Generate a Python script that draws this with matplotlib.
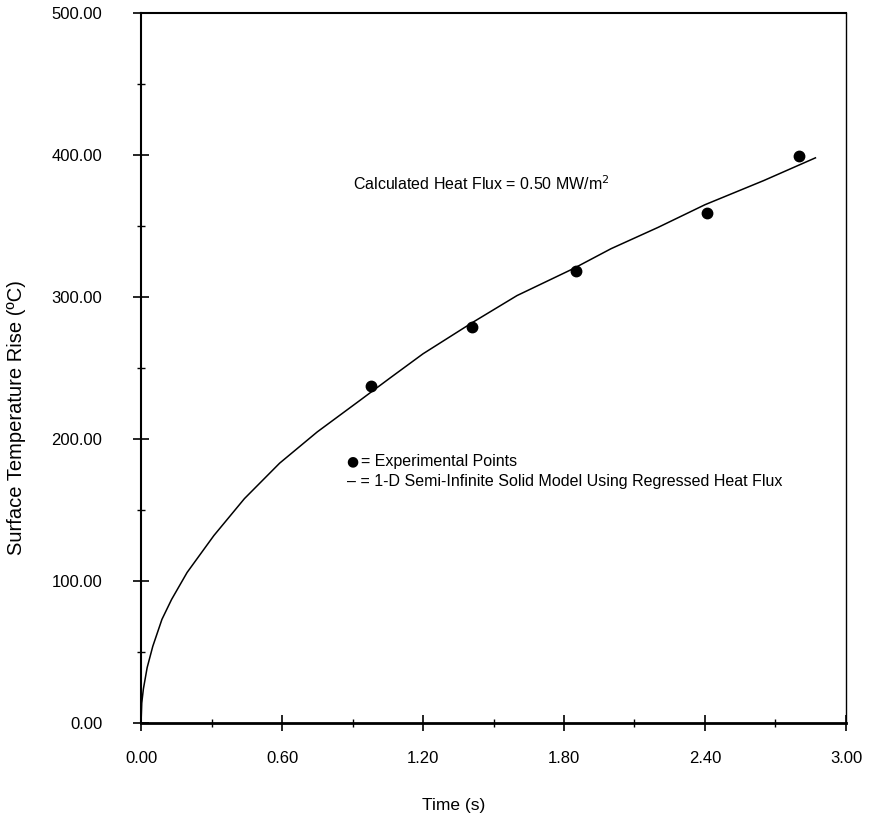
import numpy as np
import matplotlib.pyplot as plt
from matplotlib.ticker import MultipleLocator, FormatStrFormatter

plt.rcParams['font.family'] = ['Liberation Sans', 'DejaVu Sans']

# experimental points
t_exp = [0.98, 1.41, 1.85, 2.41, 2.80]
T_exp = [237, 279, 318, 359, 399]

# model curve (1-D semi-infinite solid)
t_model = [0.0, 0.003, 0.01, 0.026, 0.05, 0.089, 0.13, 0.196, 0.31, 0.44,
           0.59, 0.75, 0.93, 1.06, 1.2, 1.41, 1.6, 1.84, 2.0, 2.20,
           2.40, 2.65, 2.87]
T_model = [0, 14, 24, 39, 54, 73, 87, 106, 132, 158,
           183, 205, 227, 243, 260, 282, 301, 320, 334, 349,
           365, 382, 398]

x_ticks = [0.0, 0.6, 1.2, 1.8, 2.4, 3.0]
y_ticks = [0, 100, 200, 300, 400, 500]

fig = plt.figure(figsize=(8.69, 8.24), dpi=100)
ax = fig.add_axes([0.1623, 0.1226, 0.8112, 0.8616])

ax.plot(t_model, T_model, color='black', lw=1.1)
ax.plot(t_exp, T_exp, 'o', color='black', ms=7.5)

ax.set_xlim(0, 3.0)
ax.set_ylim(0, 500)
ax.set_xticks(x_ticks)
ax.set_yticks(y_ticks)
ax.xaxis.set_minor_locator(MultipleLocator(0.3))
ax.yaxis.set_minor_locator(MultipleLocator(50))
ax.xaxis.set_major_formatter(FormatStrFormatter('%.2f'))
ax.yaxis.set_major_formatter(FormatStrFormatter('%.2f'))

ax.tick_params(which='major', direction='inout', length=12, width=1.2,
               labelsize=12, top=False, right=False)
ax.tick_params(which='minor', direction='inout', length=6, width=1.0,
               top=False, right=False)
ax.tick_params(axis='y', which='major', pad=22)
ax.tick_params(axis='x', which='major', pad=14)

ax.spines['bottom'].set_linewidth(2.0)
ax.spines['left'].set_linewidth(1.5)
ax.spines['top'].set_linewidth(1.5)
ax.spines['right'].set_linewidth(1.0)

ax.set_xlabel('Time (s)', fontsize=12.5)
ax.xaxis.set_label_coords(0.443, -0.106)
ax.set_ylabel('Surface Temperature Rise (ºC)', fontsize=14.5)
ax.yaxis.set_label_coords(-0.163, 0.43)

ax.text(0.90, 380, 'Calculated Heat Flux = 0.50 MW/m$^2$', fontsize=11.5,
        va='center', ha='left')
ax.text(0.872, 184.5, '●', fontsize=10, va='center', ha='left',
        family='DejaVu Sans')
ax.annotate('= Experimental Points', xy=(0.872, 184.5), xytext=(10.5, 0),
            textcoords='offset points', fontsize=11.5, va='center', ha='left')
ax.text(0.875, 170, '– = 1-D Semi-Infinite Solid Model Using Regressed Heat Flux',
        fontsize=11.5, va='center', ha='left')

fig.savefig('out.png', dpi=100)
